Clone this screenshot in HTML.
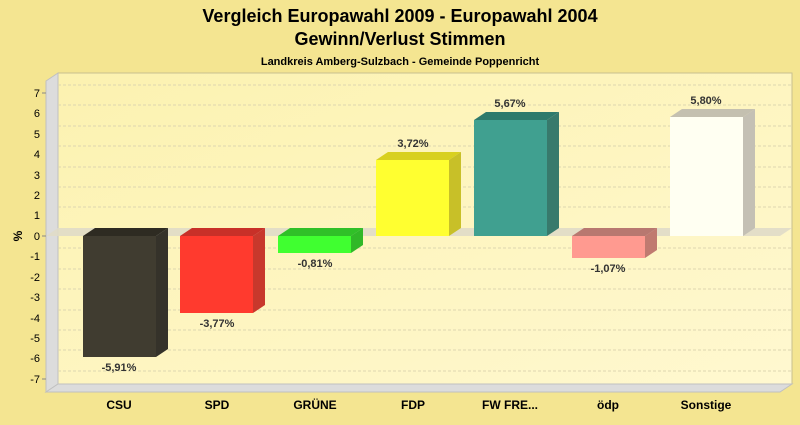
<!DOCTYPE html>
<html><head><meta charset="utf-8"><style>body{margin:0;background:#f4e591}</style></head><body>
<svg width="800" height="420" xmlns="http://www.w3.org/2000/svg" font-family="Liberation Sans, sans-serif">
<defs><linearGradient id="bg" x1="0" y1="0" x2="1" y2="1"><stop offset="0" stop-color="#fcf2b0"/><stop offset="1" stop-color="#fff8d0"/></linearGradient></defs>
<rect width="800" height="420" fill="#f4e591"/>
<text x="400" y="22" text-anchor="middle" font-size="18" font-weight="bold">Vergleich Europawahl 2009 - Europawahl 2004</text>
<text x="400" y="45" text-anchor="middle" font-size="18" font-weight="bold">Gewinn/Verlust Stimmen</text>
<text x="400" y="65" text-anchor="middle" font-size="11" font-weight="bold">Landkreis Amberg-Sulzbach - Gemeinde Poppenricht</text>
<!-- back wall -->
<rect x="58" y="73" width="734" height="311" fill="url(#bg)" stroke="#c8c090"/>
<!-- left wall -->
<polygon points="46,81 58,73 58,384 46,392" fill="#dcdcdc" stroke="#c0c0c0"/>
<!-- floor -->
<polygon points="46,392 58,384 792,384 780,392" fill="#dcdcdc" stroke="#c0c0c0"/>
<g stroke="#ddd6b0" stroke-dasharray="3,2">
<line x1="58" y1="85" x2="792" y2="85"/><line x1="58" y1="105" x2="792" y2="105"/><line x1="58" y1="126" x2="792" y2="126"/><line x1="58" y1="146" x2="792" y2="146"/><line x1="58" y1="167" x2="792" y2="167"/><line x1="58" y1="187" x2="792" y2="187"/><line x1="58" y1="207" x2="792" y2="207"/>
<line x1="58" y1="248" x2="792" y2="248"/><line x1="58" y1="269" x2="792" y2="269"/><line x1="58" y1="289" x2="792" y2="289"/><line x1="58" y1="310" x2="792" y2="310"/><line x1="58" y1="330" x2="792" y2="330"/><line x1="58" y1="350" x2="792" y2="350"/><line x1="58" y1="371" x2="792" y2="371"/>
</g>
<!-- zero plane -->
<polygon points="46,236 58,228 792,228 780,236" fill="#e0dcc8" opacity="0.9"/>
<g font-size="11" text-anchor="end">
<text x="40" y="97">7</text><text x="40" y="117">6</text><text x="40" y="138">5</text><text x="40" y="158">4</text><text x="40" y="179">3</text><text x="40" y="199">2</text><text x="40" y="219">1</text><text x="40" y="240">0</text><text x="40" y="260">-1</text><text x="40" y="281">-2</text><text x="40" y="301">-3</text><text x="40" y="322">-4</text><text x="40" y="342">-5</text><text x="40" y="362">-6</text><text x="40" y="383">-7</text>
</g>
<g stroke="#888"><line x1="42" y1="93" x2="46" y2="93"/><line x1="42" y1="236" x2="46" y2="236"/><line x1="42" y1="379" x2="46" y2="379"/></g>
<text x="22" y="236" font-size="12" font-weight="bold" transform="rotate(-90 22 236)" text-anchor="middle">%</text>
<!-- bars -->
<g>
<!-- CSU -->
<polygon points="83,236 95,228 168,228 156,236" fill="#2e2b22"/><polygon points="156,236 168,228 168,349 156,357" fill="#35322a"/><rect x="83" y="236" width="73" height="121" fill="#403c30"/>
<!-- SPD -->
<polygon points="180,236 192,228 265,228 253,236" fill="#c83028"/><polygon points="253,236 265,228 265,305 253,313" fill="#c8382c"/><rect x="180" y="236" width="73" height="77" fill="#ff3a2e"/>
<!-- GRUENE -->
<polygon points="278,236 290,228 363,228 351,236" fill="#30c028"/><polygon points="351,236 363,228 363,245 351,253" fill="#30b828"/><rect x="278" y="236" width="73" height="17" fill="#40ff30"/>
<!-- FDP -->
<polygon points="376,160 388,152 461,152 449,160" fill="#d8d020"/><polygon points="449,160 461,152 461,228 449,236" fill="#c8c028"/><rect x="376" y="160" width="73" height="76" fill="#ffff30"/>
<!-- FW -->
<polygon points="474,120 486,112 559,112 547,120" fill="#2e7a6c"/><polygon points="547,120 559,112 559,228 547,236" fill="#387a6c"/><rect x="474" y="120" width="73" height="116" fill="#40a090"/>
<!-- odp -->
<polygon points="572,236 584,228 657,228 645,236" fill="#b87870"/><polygon points="645,236 657,228 657,250 645,258" fill="#c07a70"/><rect x="572" y="236" width="73" height="22" fill="#ff9a90"/>
<!-- Sonstige -->
<polygon points="670,117 682,109 755,109 743,117" fill="#c4c0b0"/><polygon points="743,117 755,109 755,228 743,236" fill="#c4c0b4"/><rect x="670" y="117" width="73" height="119" fill="#fffff2"/>
</g>
<g font-size="11" font-weight="bold" fill="#333" text-anchor="middle">
<text x="119" y="371">-5,91%</text><text x="217" y="327">-3,77%</text><text x="315" y="267">-0,81%</text><text x="413" y="147">3,72%</text><text x="510" y="107">5,67%</text><text x="608" y="272">-1,07%</text><text x="706" y="104">5,80%</text>
</g>
<g font-size="12" font-weight="bold" text-anchor="middle">
<text x="119" y="409">CSU</text><text x="217" y="409">SPD</text><text x="315" y="409">GRÜNE</text><text x="413" y="409">FDP</text><text x="510" y="409">FW FRE...</text><text x="608" y="409">ödp</text><text x="706" y="409">Sonstige</text>
</g>
</svg>
</body></html>
